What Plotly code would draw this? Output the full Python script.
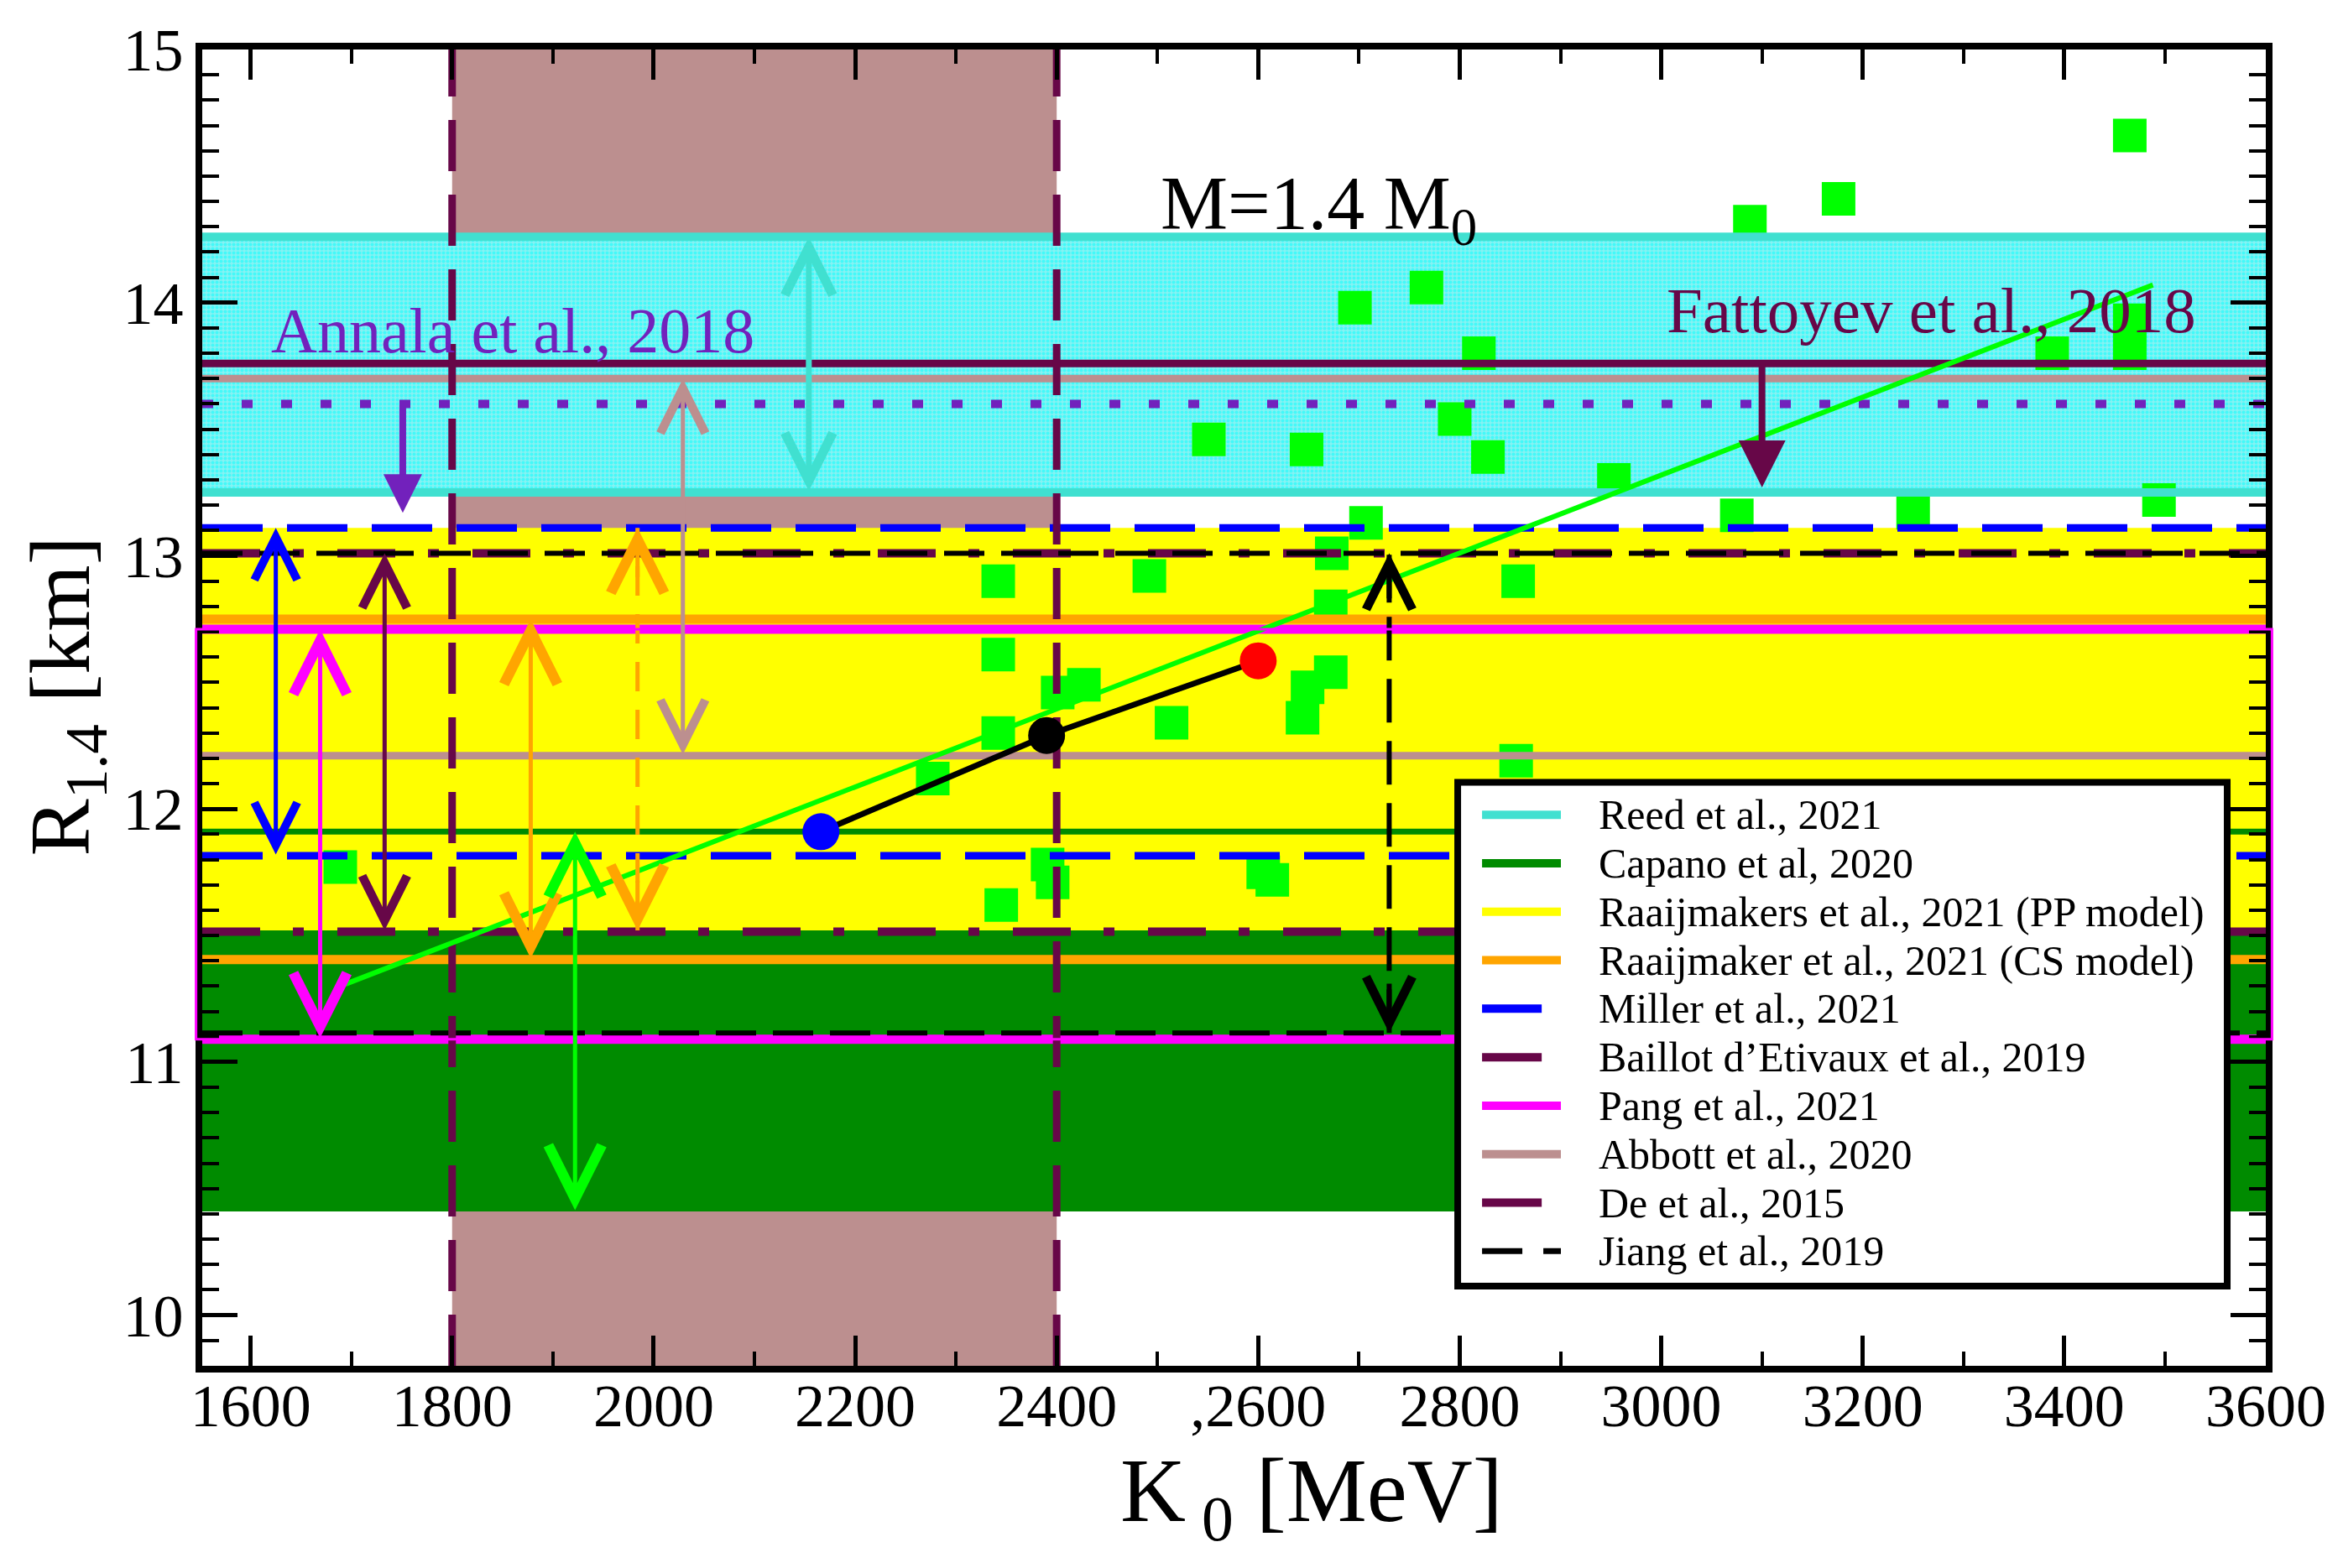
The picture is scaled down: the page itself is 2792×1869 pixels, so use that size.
import plotly.graph_objects as go

# ---- data ----
k_models = [1689, 2342, 2492, 2707, 2673, 2672, 2342, 2427, 2401, 2342, 2514, 2672, 2649, 2644,
            2277, 2391, 2396, 2605, 2614, 2345, 2856, 2858, 2551, 2648, 2696, 2767, 2795, 2828,
            2819, 2953, 3075, 3088, 3176, 3250, 3388, 3465, 3465, 3465, 3494]
r_models = [11.77, 12.90, 12.92, 13.13, 13.01, 12.80, 12.61, 12.49, 12.46, 12.30, 12.34, 12.54, 12.48, 12.36,
            12.12, 11.78, 11.71, 11.75, 11.72, 11.62, 12.19, 12.90, 13.46, 13.42, 13.98, 14.06, 13.54, 13.39,
            13.80, 13.30, 13.16, 14.32, 14.41, 13.17, 13.80, 14.66, 13.80, 13.93, 13.22]

fit_k = [1689, 3488]
fit_r = [11.30, 14.07]

chain_k = [2166, 2390, 2600]
chain_r = [11.91, 12.29, 12.585]
chain_colors = ["#0000ff", "#000000", "#ff0000"]

reed_r = [13.25, 14.26]
capano_r = [10.41, 11.91]
raaij_pp_r = [11.52, 13.11]
raaij_cs_r = [11.405, 12.75]
miller_r = [11.815, 13.11]
baillot_r = [11.515, 13.01]
pang_r = [11.09, 12.71]
abbott_r = [12.21, 13.70]
de_k = [1800, 2400]
jiang_r = [11.115, 13.01]
annala_r = 13.60
fattoyev_r = 13.76

x_range = [1552, 3600]
y_range = [9.8, 15]
x_ticks = [1600, 1800, 2000, 2200, 2400, 2600, 2800, 3000, 3200, 3400, 3600]
x_ticktext = ["1600", "1800", "2000", "2200", "2400", ",2600", "2800", "3000", "3200", "3400", "3600"]
y_ticks = [10, 11, 12, 13, 14, 15]

legend_labels = ["Reed et al., 2021", "Capano et al, 2020", "Raaijmakers et al., 2021 (PP model)",
                 "Raaijmaker et al., 2021 (CS model)", "Miller et al., 2021", "Baillot d\u2019Etivaux et al., 2019",
                 "Pang et al., 2021", "Abbott et al., 2020", "De et al., 2015", "Jiang et al., 2019"]

# colours (xmgrace palette)
TURQ = "#40e0d0"
GREEN = "#008b00"
YELLOW = "#ffff00"
ORANGE = "#ffa500"
BLUE = "#0000ff"
MAROON = "#670748"
MAGENTA = "#ff00ff"
TAN = "#bc8f8f"
INDIGO = "#7221bc"
LIME = "#00ff00"
FONT = "Liberation Serif, Times New Roman, serif"

DASHDOT = "69px,39px,13px,40px"

fig = go.Figure()

# ---- bands ----
fig.add_shape(type="rect", xref="x", yref="y domain", x0=de_k[0], x1=de_k[1], y0=0, y1=1,
              fillcolor=TAN, line_width=0, layer="below")
fig.add_shape(type="rect", xref="x domain", yref="y", x0=0, x1=1, y0=capano_r[0], y1=capano_r[1],
              fillcolor=GREEN, line_width=0, layer="below")
fig.add_shape(type="rect", xref="x domain", yref="y", x0=0, x1=1, y0=raaij_pp_r[0], y1=raaij_pp_r[1],
              fillcolor=YELLOW, line_width=0, layer="below")

fig.add_trace(go.Scatter(
    x=[x_range[0], x_range[1], x_range[1], x_range[0], x_range[0]],
    y=[reed_r[0], reed_r[0], reed_r[1], reed_r[1], reed_r[0]],
    mode="none", fill="toself", fillcolor="#60f0f0",
    fillpattern=dict(shape=".", fgcolor="#00ffff", bgcolor="#86f2f2", size=5, solidity=0.5),
    showlegend=False, hoverinfo="skip"))

# ---- model points ----
fig.add_trace(go.Scatter(x=k_models, y=r_models, mode="markers",
                         marker=dict(symbol="square", size=40, color=LIME, line_width=0),
                         showlegend=False))


def hline(r, color, width, dash="solid"):
    fig.add_trace(go.Scatter(x=x_range, y=[r, r], mode="lines",
                             line=dict(color=color, width=width, dash=dash),
                             showlegend=False, hoverinfo="skip"))


# ---- constraint lines ----
for r in reed_r:
    hline(r, TURQ, 10)
hline(capano_r[1], GREEN, 7)
for r in raaij_cs_r:
    hline(r, ORANGE, 11)
for r in pang_r:
    hline(r, MAGENTA, 11)
for r in abbott_r:
    hline(r, TAN, 9)
hline(annala_r, INDIGO, 10, "13px,34px")
hline(fattoyev_r, MAROON, 9)
for r in miller_r:
    hline(r, BLUE, 9, "72px,29px")
for r in baillot_r:
    hline(r, MAROON, 10, DASHDOT)
for r in jiang_r:
    hline(r, "black", 6, "48px,20px")

fig.add_shape(type="rect", xref="x domain", yref="y", x0=-0.003, x1=1.003, y0=pang_r[0], y1=pang_r[1],
              line=dict(color=MAGENTA, width=3), layer="above")

for k in de_k:
    fig.add_trace(go.Scatter(x=[k, k], y=y_range, mode="lines",
                             line=dict(color=MAROON, width=9, dash="61px,28px"),
                             showlegend=False, hoverinfo="skip"))

# ---- fit and chain ----
fig.add_trace(go.Scatter(x=fit_k, y=fit_r, mode="lines", line=dict(color=LIME, width=6),
                         showlegend=False, hoverinfo="skip"))
fig.add_trace(go.Scatter(x=chain_k, y=chain_r, mode="lines+markers",
                         line=dict(color="black", width=7),
                         marker=dict(size=44, color=chain_colors, line_width=0),
                         showlegend=False))


# ---- range arrows ----
def range_arrow(k, r_lo, r_hi, color, width=5, size=2.3, dash=None):
    if dash is None:
        fig.add_annotation(x=k, y=r_hi, ax=k, ay=r_lo, axref="x", ayref="y", xref="x", yref="y",
                           text="", showarrow=True, arrowhead=5, startarrowhead=5,
                           arrowside="end+start", arrowsize=size, startarrowsize=size,
                           arrowwidth=width, arrowcolor=color, standoff=0, startstandoff=0)
    else:
        fig.add_trace(go.Scatter(x=[k, k], y=[r_lo, r_hi], mode="lines",
                                 line=dict(color=color, width=width, dash=dash),
                                 showlegend=False, hoverinfo="skip"))
        for tip, tail in [(r_hi, r_hi - 0.2), (r_lo, r_lo + 0.2)]:
            fig.add_annotation(x=k, y=tip, ax=k, ay=tail, axref="x", ayref="y", xref="x", yref="y",
                               text="", showarrow=True, arrowhead=5, arrowsize=size,
                               arrowwidth=width, arrowcolor=color, standoff=0)


range_arrow(1625, miller_r[0], miller_r[1], BLUE, size=2.0)
range_arrow(1669, pang_r[0], pang_r[1], MAGENTA, size=2.5)
range_arrow(1733, baillot_r[0], baillot_r[1], MAROON, size=2.1)
range_arrow(1878, raaij_cs_r[0], raaij_cs_r[1], ORANGE, size=2.5)
range_arrow(1984, raaij_pp_r[0], raaij_pp_r[1], ORANGE, size=2.5, dash="35px,22px")
range_arrow(2029, abbott_r[0], abbott_r[1], TAN, size=2.1)
range_arrow(2154, reed_r[0], reed_r[1], TURQ, width=7, size=1.6)
range_arrow(1922, capano_r[0], capano_r[1], LIME, size=2.5)
range_arrow(2730, jiang_r[0], jiang_r[1], "black", width=6, size=1.8, dash="52px,22px")

for k, r0, r1, color, sz in [(1751, annala_r, 13.17, INDIGO, 1.15), (3100, fattoyev_r, 13.27, MAROON, 1.4)]:
    fig.add_annotation(x=k, y=r1, ax=k, ay=r0, axref="x", ayref="y", xref="x", yref="y",
                       text="", showarrow=True, arrowhead=2, arrowsize=sz,
                       arrowwidth=8, arrowcolor=color, standoff=0)

# ---- text labels ----
fig.add_annotation(x=1860, y=13.89, xref="x", yref="y", text="Annala et al., 2018", showarrow=False,
                   font=dict(family=FONT, size=76, color=INDIGO))
fig.add_annotation(x=3268, y=13.97, xref="x", yref="y", text="Fattoyev et al., 2018", showarrow=False,
                   font=dict(family=FONT, size=77, color=MAROON))
fig.add_annotation(x=2660, y=14.37, xref="x", yref="y", text="M=1.4 M<sub>0</sub>", showarrow=False,
                   font=dict(family=FONT, size=90, color="black"))

# ---- axis titles ----
fig.add_annotation(x=0.5376, y=-0.100, xref="paper", yref="paper", text="K<sub> 0</sub> [MeV]",
                   showarrow=False, yanchor="middle", font=dict(family=FONT, size=108, color="black"))
fig.add_annotation(x=-0.066, y=0.5088, xref="paper", yref="paper", text="R<sub>1.4</sub> [km]",
                   showarrow=False, textangle=-90, xanchor="center", yanchor="middle",
                   font=dict(family=FONT, size=102, color="black"))

# ---- hand-drawn legend box ----
legend_colors = [TURQ, GREEN, YELLOW, ORANGE, BLUE, MAROON, MAGENTA, TAN, MAROON, "black"]
legend_dash = [None, None, None, None, "short", "short", None, None, "short", "48px,25px"]
fig.add_shape(type="rect", xref="paper", yref="paper", x0=0.6084, x1=0.9813, y0=0.0606, y1=0.4432,
              fillcolor="white", line=dict(color="black", width=8), layer="above")
row_top, row_step = 0.4186, 0.03683
for i, label in enumerate(legend_labels):
    yy = row_top - i * row_step
    x_end = 0.6491 if legend_dash[i] == "short" else 0.6584
    dash = legend_dash[i] if legend_dash[i] not in (None, "short") else "solid"
    fig.add_shape(type="line", xref="paper", yref="paper", x0=0.6202, x1=x_end, y0=yy, y1=yy,
                  line=dict(color=legend_colors[i], width=10 if i != 9 else 7, dash=dash), layer="above")
    fig.add_annotation(x=0.6759, y=yy, xref="paper", yref="paper", xanchor="left", yanchor="middle",
                       text=label, showarrow=False, font=dict(family=FONT, size=50, color="black"))

# ---- axes ----
axis_common = dict(showline=True, linewidth=8, linecolor="black", mirror="ticks", ticks="inside",
                   tickcolor="black", tickwidth=5, showgrid=False, zeroline=False,
                   ticklabeloverflow="allow",
                   tickfont=dict(family=FONT, size=72, color="black"))
fig.update_xaxes(range=x_range, tickvals=x_ticks, ticktext=x_ticktext, ticklen=36, ticklabelstandoff=-22,
                 minor=dict(dtick=100, ticklen=17, tickwidth=4, ticks="inside", tickcolor="black"),
                 **axis_common)
fig.update_yaxes(range=y_range, tickvals=y_ticks, ticklen=42,
                 minor=dict(dtick=0.1, ticklen=20, tickwidth=4, ticks="inside", tickcolor="black"),
                 **axis_common)

# page body adds an 8px offset, so the figure is a bit smaller than the window
fig.update_layout(width=2776, height=1853, margin=dict(l=233, r=84, t=36, b=233),
                  plot_bgcolor="white", paper_bgcolor="white", showlegend=False)

fig.write_html("out.html")
